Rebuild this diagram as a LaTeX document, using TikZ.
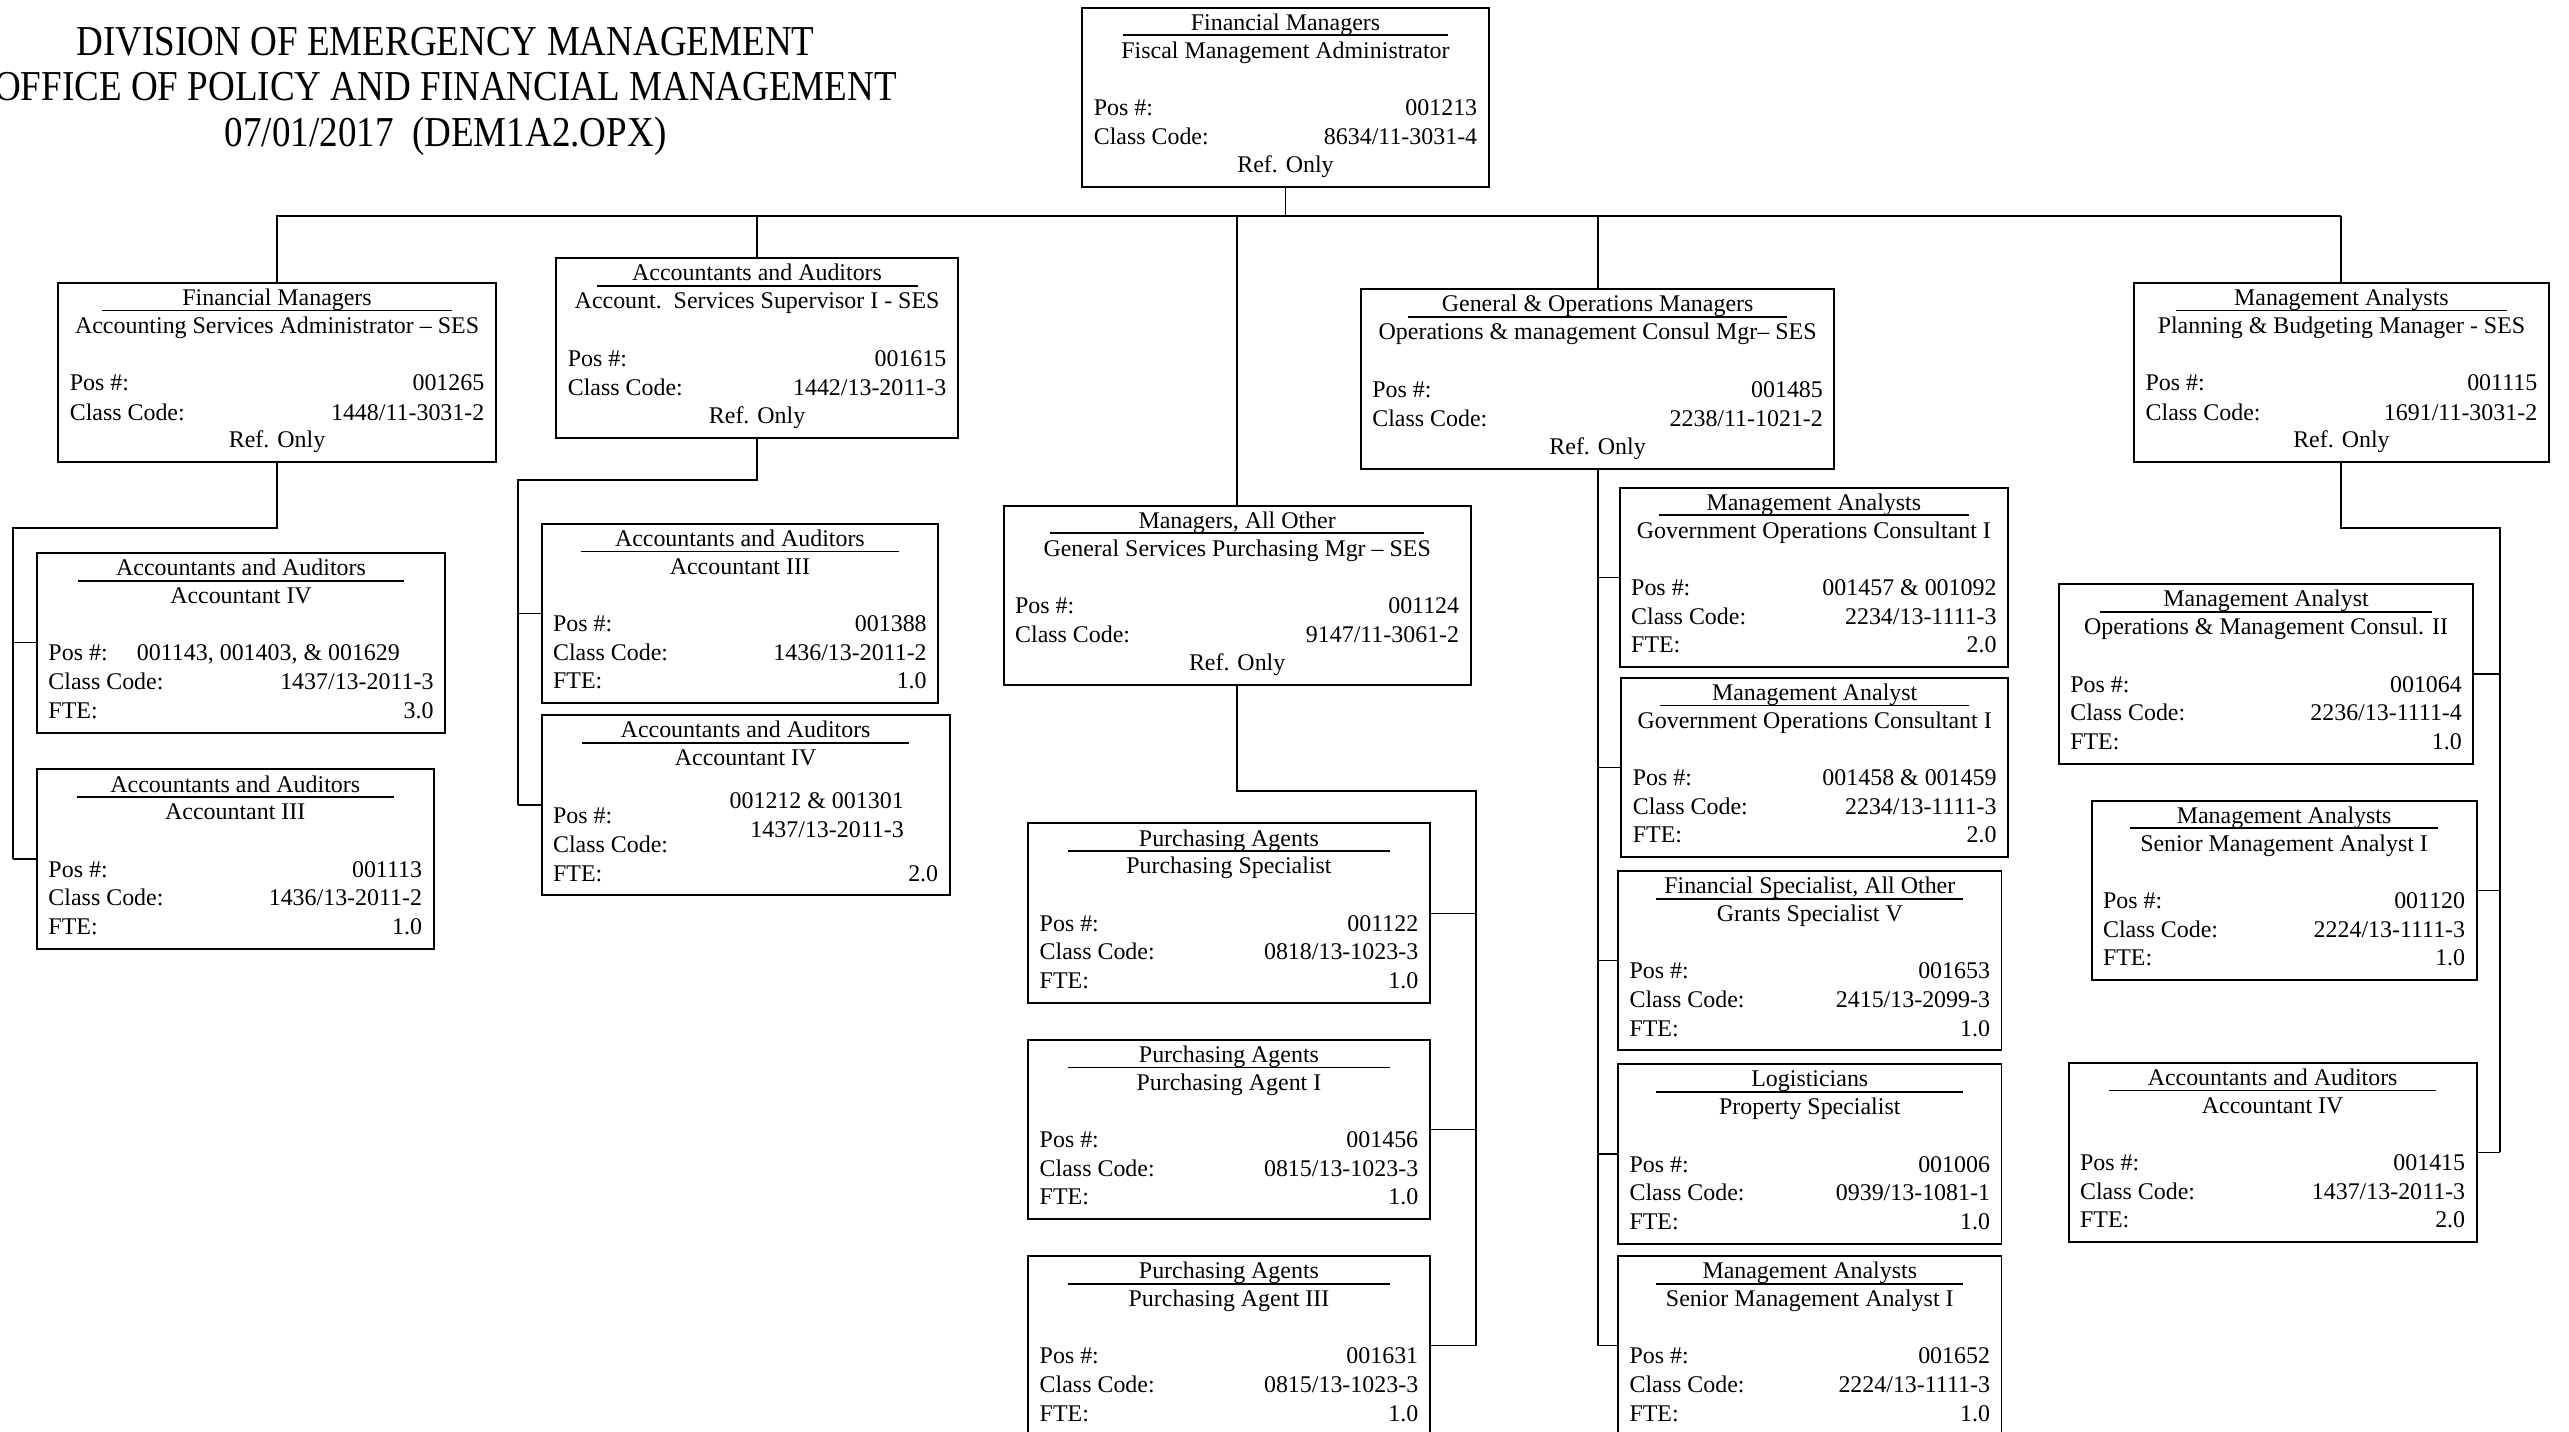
\documentclass[tikz,border=0pt]{standalone}
\usepackage{fontspec}
\setmainfont{Liberation Serif}
\newfontfamily\titlefont[FakeStretch=0.87]{Liberation Serif}

% box text: category, rule, title, then the numbered lines
\newlength{\jobw}
\newcommand{\jobcontent}[4]{%
    \setlength{\jobw}{\dimexpr #1pt/2-7pt\relax}%
    \vbox to 54.75pt{\offinterlineskip
        \vskip6.9pt\hbox to\jobw{\hss\smash{#2}\hss}
        \vskip1.3pt\hbox to\jobw{\hss\rule{\dimexpr #1pt*2/5\relax}{0.5pt}\hss}
        \vskip6.7pt\hbox to\jobw{\hss\smash{#3}\hss}
        #4\vfil}}
\newcommand{\lrline}[3]{\vskip#1\hbox to\jobw{\smash{#2}\hfil\smash{#3}}}
\newcommand{\midline}[2]{\vskip#1\hbox to\jobw{\hss\smash{#2}\hss}}
\newcommand{\refonly}[2]{\lrline{17.5pt}{Pos \#:}{#1}\lrline{9pt}{Class Code:}{#2}\midline{8.5pt}{Ref. Only}}
\newcommand{\withfte}[3]{\lrline{17.5pt}{Pos \#:}{#1}\lrline{8.75pt}{Class Code:}{#2}\lrline{8.75pt}{FTE:}{#3}}

\tikzset{
    jobbox/.style={draw, line width=0.6pt, inner xsep=3.5pt, inner ysep=0pt, anchor=north west, font=\fontsize{7.3}{8.75}\selectfont},
    heading/.style={anchor=base, inner sep=0pt, font=\titlefont\fontsize{13}{14}\selectfont},
    link/.style={line width=0.6pt},
    stub/.style={line width=0.4pt}
}

\begin{document}
\begin{tikzpicture}[x=0.5pt, y=-0.5pt]
    \useasboundingbox (0,0) rectangle (1568,874);

    \node[heading] (title1) at (272,33.6) {DIVISION OF EMERGENCY MANAGEMENT};
    \node[heading] (title2) at (272,61.6) {OFFICE OF POLICY AND FINANCIAL MANAGEMENT};
    \node[heading] (title3) at (272,89.6) {07/01/2017\ \ (DEM1A2.OPX)};

    \node[jobbox] (fma) at (660,4) {\jobcontent{248}{Financial Managers}{Fiscal Management Administrator}{\refonly{001213}{8634/11-3031-4}}};

    % first level
    \node[jobbox] (asa) at (35,172) {\jobcontent{267}{Financial Managers}{Accounting Services Administrator – SES}{\refonly{001265}{1448/11-3031-2}}};
    \node[jobbox] (ass) at (339,157) {\jobcontent{245}{Accountants and Auditors}{Account.\ \ Services Supervisor I - SES}{\refonly{001615}{1442/13-2011-3}}};
    \node[jobbox] (gspm) at (612,308) {\jobcontent{285}{Managers, All Other}{General Services Purchasing Mgr – SES}{\refonly{001124}{9147/11-3061-2}}};
    \node[jobbox] (omcm) at (830,176) {\jobcontent{289}{General \& Operations Managers}{Operations \& management Consul Mgr– SES}{\refonly{001485}{2238/11-1021-2}}};
    \node[jobbox] (pbm) at (1302,172) {\jobcontent{253}{Management Analysts}{Planning \& Budgeting Manager - SES}{\refonly{001115}{1691/11-3031-2}}};

    % second level
    \node[jobbox] (acc4a) at (22,337) {\jobcontent{249}{Accountants and Auditors}{Accountant IV}{\lrline{17.5pt}{\makebox[27pt][l]{Pos \#:}001143, 001403, \& 001629}{}\lrline{8.75pt}{Class Code:}{1437/13-2011-3}\lrline{8.75pt}{FTE:}{3.0}}};
    \node[jobbox] (acc3a) at (22,469) {\jobcontent{242}{Accountants and Auditors}{Accountant III}{\withfte{001113}{1436/13-2011-2}{1.0}}};
    \node[jobbox] (acc3b) at (330,319) {\jobcontent{242}{Accountants and Auditors}{Accountant III}{\withfte{001388}{1436/13-2011-2}{1.0}}};
    \node[jobbox] (acc4b) at (330,436) {\jobcontent{249}{Accountants and Auditors}{Accountant IV}{\lrline{13pt}{}{001212 \& 001301\hspace{10.5pt}}\lrline{4.5pt}{Pos \#:}{}\lrline{4.5pt}{}{1437/13-2011-3\hspace{10.5pt}}\lrline{4.5pt}{Class Code:}{}\lrline{8.75pt}{FTE:}{2.0}}};
    \node[jobbox] (ps) at (627,502) {\jobcontent{245}{Purchasing Agents}{Purchasing Specialist}{\withfte{001122}{0818/13-1023-3}{1.0}}};
    \node[jobbox] (pa1) at (627,634) {\jobcontent{245}{Purchasing Agents}{Purchasing Agent I}{\withfte{001456}{0815/13-1023-3}{1.0}}};
    \node[jobbox] (pa3) at (627,766) {\jobcontent{245}{Purchasing Agents}{Purchasing Agent III}{\withfte{001631}{0815/13-1023-3}{1.0}}};
    \node[jobbox] (goc1) at (988,297) {\jobcontent{237}{Management Analysts}{Government Operations Consultant I}{\withfte{001457 \& 001092}{2234/13-1111-3}{2.0}}};
    \node[jobbox] (goc2) at (989,413) {\jobcontent{236}{Management Analyst}{Government Operations Consultant I}{\withfte{001458 \& 001459}{2234/13-1111-3}{2.0}}};
    \node[jobbox] (gs5) at (987,531) {\jobcontent{234}{Financial Specialist, All Other}{Grants Specialist V}{\withfte{001653}{2415/13-2099-3}{1.0}}};
    \node[jobbox] (prop) at (987,649) {\jobcontent{234}{Logisticians}{Property Specialist}{\withfte{001006}{0939/13-1081-1}{1.0}}};
    \node[jobbox] (sma1) at (987,766) {\jobcontent{234}{Management Analysts}{Senior Management Analyst I}{\withfte{001652}{2224/13-1111-3}{1.0}}};
    \node[jobbox] (omc2) at (1256,356) {\jobcontent{253}{Management Analyst}{Operations \& Management Consul. II}{\withfte{001064}{2236/13-1111-4}{1.0}}};
    \node[jobbox] (sma2) at (1276,488) {\jobcontent{235}{Management Analysts}{Senior Management Analyst I}{\withfte{001120}{2224/13-1111-3}{1.0}}};
    \node[jobbox] (acc4c) at (1262,648) {\jobcontent{249}{Accountants and Auditors}{Accountant IV}{\withfte{001415}{1437/13-2011-3}{2.0}}};

    % connectors
    \coordinate (bus) at (0,132);
    \draw[link] (fma.south) -- (fma.south |- bus);
    \draw[link] (asa.north) |- (pbm.north |- bus);
    \foreach \n in {ass,gspm,omcm,pbm}
        \draw[link] (\n.north) -- (\n.north |- bus);

    \coordinate (asarail) at (8,322);
    \draw[link] (asa.south) |- (asarail) -- (asarail |- acc3a.west);
    \foreach \n in {acc4a,acc3a}
        \draw[stub] (asarail |- \n.west) -- (\n.west);

    \coordinate (assrail) at (316,293);
    \draw[link] (ass.south) |- (assrail) -- (assrail |- acc4b.west);
    \foreach \n in {acc3b,acc4b}
        \draw[stub] (assrail |- \n.west) -- (\n.west);

    \coordinate (gspmrail) at (901,483);
    \draw[link] (gspm.south) |- (gspmrail) -- (gspmrail |- pa3.east);
    \foreach \n in {ps,pa1,pa3}
        \draw[stub] (\n.east) -- (gspmrail |- \n.east);

    \draw[link] (omcm.south) -- (omcm.south |- sma1.west);
    \foreach \n in {goc1,goc2,gs5,prop,sma1}
        \draw[stub] (omcm.south |- \n.west) -- (\n.west);

    \coordinate (pbmrail) at (1526,322);
    \draw[link] (pbm.south) |- (pbmrail) -- (pbmrail |- acc4c.east);
    \foreach \n in {omc2,sma2,acc4c}
        \draw[stub] (\n.east) -- (pbmrail |- \n.east);
\end{tikzpicture}
\end{document}
